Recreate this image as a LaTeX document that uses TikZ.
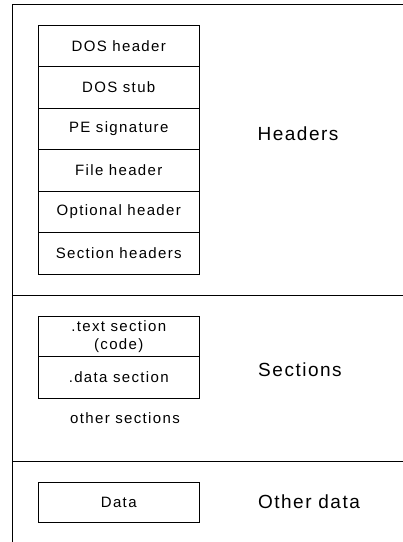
\documentclass[tikz,border=0pt]{standalone}
\usepackage{fontspec}
\usepackage{tikz}
\usetikzlibrary{positioning}
\newfontfamily\boxfont[LetterSpace=9]{Liberation Sans}
\newfontfamily\partfont[LetterSpace=8]{Liberation Sans}

\begin{document}
\begin{tikzpicture}[x=1pt,y=-1pt,
    cell/.style={draw,line width=0.9pt,minimum width=161.5pt,minimum height=41.5pt,
                 inner sep=0pt,outer sep=0pt,align=center,
                 font=\boxfont\fontsize{15}{18}\selectfont},
    part/.style={font=\partfont\fontsize{19}{22}\selectfont},
    frame/.style={line width=1pt}]
    \useasboundingbox (0,0) rectangle (403,542);

    % Rahmen
    \coordinate (tl) at (12, 4.3);
    \coordinate (bl) at (12, 542);
    \draw[frame] (403, 4.3) -- (tl) -- (bl);
    \draw[frame] (12, 295) -- (403, 295);
    \draw[frame] (12, 461.7) -- (403, 461.7);

    % Headers
    \node[cell,anchor=north] (dos) at (118.75, 25.3) {DOS header};
    \node[cell,below=0pt of dos] (stub) {DOS stub};
    \node[cell,below=0pt of stub] (sig) {PE signature};
    \node[cell,below=0pt of sig] (file) {File header};
    \node[cell,below=0pt of file] (opt) {Optional header};
    \node[cell,below=0pt of opt] (sect) {Section headers};
    \node[part] (headers) at (298, 134) {Headers};

    % Sections
    \node[cell,anchor=north,minimum height=40.7pt] (text) at (118.75, 316) {.text section\\(code)};
    \node[cell,below=0pt of text] (data) {.data section};
    \node[font=\boxfont\fontsize{15}{18}\selectfont] (other) at (125, 418) {other sections};
    \node[part] (sections) at (300, 370) {Sections};

    % Other data
    \node[cell,anchor=north,minimum height=40pt] (rest) at (118.75, 482.3) {Data};
    \node[part] (otherdata) at (309, 501.7) {Other data};
\end{tikzpicture}
\end{document}
